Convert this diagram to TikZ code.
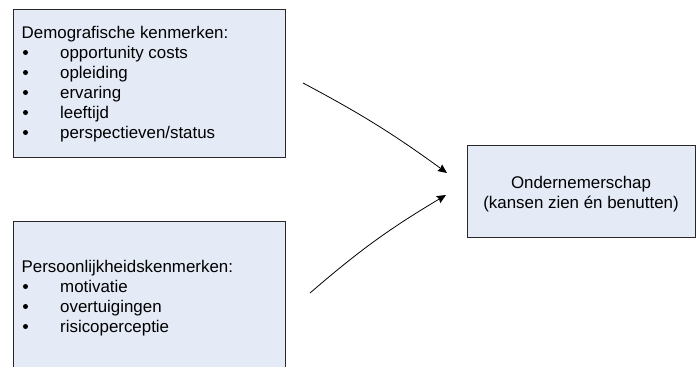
\documentclass[tikz,border=0pt]{standalone}
\usepackage{fontspec}
\setmainfont{Liberation Sans}
\usetikzlibrary{arrows.meta}
\definecolor{boxfill}{RGB}{228,234,246}
\definecolor{boxline}{RGB}{40,40,40}
\begin{document}
\begin{tikzpicture}[x=1pt,y=-1pt,
  box/.style={draw=boxline,line width=0.9pt,fill=boxfill,inner sep=0pt,outer sep=0pt},
  txt/.style={anchor=base west,inner sep=0pt,font=\fontsize{16.9}{20}\selectfont},
  ctxt/.style={anchor=base,inner sep=0pt,font=\fontsize{16.9}{20}\selectfont},
  bul/.style={circle,fill=black,inner sep=0pt,minimum size=5pt},
  conn/.style={line width=0.8pt,-{Stealth[length=9pt,width=8pt,inset=1pt]}}]
\useasboundingbox (0,0) rectangle (697,367);
\clip (0,0) rectangle (697,367);
% boxes
\node[box,minimum width=272pt,minimum height=148pt,anchor=north west] (demo) at (13,9) {};
\node[box,minimum width=272pt,minimum height=170pt,anchor=north west] (pers) at (13,221) {};
\node[box,minimum width=228pt,minimum height=92pt,anchor=north west] (ond) at (467,145) {};
% box 1 text
\node[txt] (d0) at (21.5,38) {Demografische kenmerken:};
\foreach \y/\t [count=\i] in {58/opportunity costs,78/opleiding,98/ervaring,118/leeftijd,138/{perspectieven/status}}{
  \node[bul] (db\i) at (25.5,\y-5.5) {};
  \node[txt] (dt\i) at (60,\y) {\t};
}
% box 2 text
\node[txt] (p0) at (21.5,272) {Persoonlijkheidskenmerken:};
\foreach \y/\t [count=\i] in {292/motivatie,312/overtuigingen,332/risicoperceptie}{
  \node[bul] (pb\i) at (25.5,\y-5.5) {};
  \node[txt] (pt\i) at (60,\y) {\t};
}
% box 3 text
\node[ctxt] (o1) at (581,188) {Ondernemerschap};
\node[ctxt] (o2) at (581,208.5) {(kansen zien én benutten)};
% arrows
\coordinate (a1s) at (303,83);
\coordinate (a1e) at (447,173);
\coordinate (a2s) at (310,293);
\coordinate (a2e) at (446,195);
\draw[conn] (a1s) to[bend left=4] (a1e);
\draw[conn] (a2s) to[bend left=5] (a2e);
\end{tikzpicture}
\end{document}
